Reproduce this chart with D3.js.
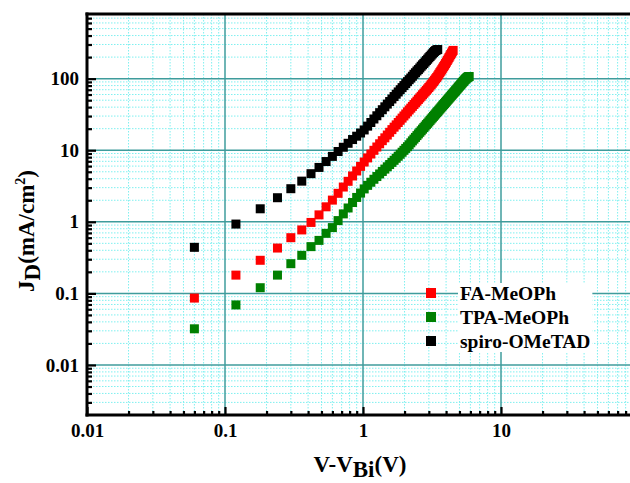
<!DOCTYPE html>
<html>
<head>
<meta charset="utf-8">
<title>J-V log-log</title>
<script src="https://cdn.jsdelivr.net/npm/d3@7"></script>
<style>
  body { margin: 0; background: #fff; }
  svg { display: block; font-family: "Liberation Serif", "Times New Roman", serif; font-weight: bold; }
</style>
</head>
<body>
<div id="chart"></div>
<script>
// V - Vbi sweep (V), shared by all three devices
var voltage = [
  0.06, 0.12, 0.18, 0.24, 0.30, 0.36, 0.42, 0.48, 0.54, 0.60,
  0.66, 0.72, 0.78, 0.84, 0.90, 0.96, 1.02, 1.08, 1.14, 1.20,
  1.26, 1.32, 1.38, 1.44, 1.50, 1.56, 1.62, 1.68, 1.74, 1.80,
  1.86, 1.92, 1.98, 2.04, 2.10, 2.16, 2.22, 2.28, 2.34, 2.40,
  2.46, 2.52, 2.58, 2.64, 2.70, 2.76, 2.82, 2.88, 2.94, 3.00,
  3.06, 3.12, 3.18, 3.24, 3.30, 3.36, 3.42, 3.48, 3.54, 3.60,
  3.66, 3.72, 3.78, 3.84, 3.90, 3.96, 4.02, 4.08, 4.14, 4.20,
  4.26, 4.32, 4.38, 4.44, 4.50, 4.56, 4.62, 4.68, 4.74, 4.80,
  4.86, 4.92, 4.98, 5.04, 5.10, 5.16, 5.22, 5.28, 5.34, 5.40,
  5.46, 5.52, 5.58, 5.64, 5.70, 5.76, 5.82, 5.88
];

// J_D (mA/cm2)
var jFA = [
  0.086, 0.18, 0.29, 0.43, 0.60, 0.77, 0.98, 1.25, 1.62, 2.01,
  2.50, 3.06, 3.68, 4.37, 5.13, 5.95, 6.84, 7.81, 8.85, 9.97,
  11.1, 12.3, 13.6, 14.9, 16.3, 17.8, 19.4, 21.0, 22.6, 24.4,
  26.2, 28.1, 30.1, 32.1, 34.3, 36.5, 38.7, 41.0, 43.5, 45.9,
  48.5, 51.2, 53.9, 56.7, 59.6, 62.5, 65.5, 68.6, 71.8, 75.2,
  78.8, 82.5, 86.4, 90.5, 95, 99.5, 104, 109, 115, 121,
  127, 133, 140, 147, 154, 162, 170, 179, 188, 197,
  207, 217, 227, 238, 248
];
var jTPA = [
  0.032, 0.069, 0.12, 0.18, 0.26, 0.34, 0.45, 0.55, 0.69, 0.83,
  1.04, 1.29, 1.56, 1.86, 2.19, 2.52, 2.88, 3.23, 3.57, 3.93,
  4.29, 4.66, 5.05, 5.45, 5.87, 6.31, 6.76, 7.23, 7.72, 8.24,
  8.79, 9.37, 9.97, 10.6, 11.2, 11.9, 12.7, 13.5, 14.3, 15.1,
  16.0, 16.9, 17.8, 18.7, 19.7, 20.7, 21.7, 22.8, 23.8, 24.9,
  26.1, 27.3, 28.4, 29.7, 30.9, 32.2, 33.5, 34.8, 36.2, 37.6,
  39.0, 40.5, 42.0, 43.5, 45.0, 46.6, 48.2, 49.9, 51.5, 53.2,
  54.9, 56.7, 58.5, 60.3, 62.1, 64.0, 65.9, 67.9, 69.9, 71.8,
  73.9, 76.0, 78.0, 80.2, 82.4, 84.5, 86.8, 89.0, 91.3, 93.6,
  96.0, 98.2, 100, 102, 104, 105.5, 106.5, 107
];
var jSpiro = [
  0.44, 0.93, 1.52, 2.17, 2.9, 3.7, 4.7, 5.75, 6.95, 8.2,
  9.6, 11.0, 12.5, 14.1, 15.7, 17.4, 19.2, 21.7, 24.4, 27.3,
  30.3, 33.5, 36.8, 40.4, 44.1, 47.9, 52.0, 56.2, 60.6, 65.2,
  70.0, 74.9, 80.0, 85.3, 90.8, 96.6, 102, 108, 115, 121,
  128, 134, 141, 149, 156, 163, 171, 179, 187, 196,
  204, 213, 222, 231, 240, 247, 252, 255
];

var seriesNames = ["FA-MeOPh", "TPA-MeOPh", "spiro-OMeTAD"];
var seriesColors = ["#ff0000", "#008000", "#000000"];
var seriesValues = [jFA, jTPA, jSpiro];

var xTickValues = [0.01, 0.1, 1, 10];
var xTickLabels = ["0.01", "0.1", "1", "10"];
var yTickValues = [0.01, 0.1, 1, 10, 100];
var yTickLabels = ["0.01", "0.1", "1", "10", "100"];

var width = 630, height = 483;
var pLeft = 87, pRight = 639, pTop = 14, pBottom = 415;

var x = d3.scaleLog().domain([0.01, 100]).range([pLeft, pRight]);
var y = d3.scaleLog().domain([0.002, 800]).range([pBottom, pTop]);

// minor positions 2..9 x 10^k inside a domain
function minorTicks(dom) {
  var out = [];
  for (var k = -4; k <= 3; k++) {
    for (var m = 2; m <= 9; m++) {
      var v = m * Math.pow(10, k);
      if (v > dom[0] * 1.0001 && v < dom[1] * 0.9999) out.push(v);
    }
  }
  return out;
}
var xMinor = minorTicks(x.domain());
var yMinor = minorTicks(y.domain());

var svg = d3.select("#chart").append("svg")
  .attr("width", width)
  .attr("height", height);

svg.append("rect").attr("width", width).attr("height", height).attr("fill", "#fff");

// grid
var grid = svg.append("g");
grid.selectAll(".xm").data(xMinor).enter().append("line")
  .attr("x1", function(d){ return x(d); }).attr("x2", function(d){ return x(d); })
  .attr("y1", pTop).attr("y2", pBottom)
  .attr("stroke", "#7ff0f0").attr("stroke-width", 1).attr("stroke-dasharray", "1.5,1.5");
grid.selectAll(".ym").data(yMinor).enter().append("line")
  .attr("x1", pLeft).attr("x2", pRight)
  .attr("y1", function(d){ return y(d); }).attr("y2", function(d){ return y(d); })
  .attr("stroke", "#7ff0f0").attr("stroke-width", 1).attr("stroke-dasharray", "1.5,1.5");
grid.selectAll(".xM").data(xTickValues.slice(1)).enter().append("line")
  .attr("x1", function(d){ return x(d); }).attr("x2", function(d){ return x(d); })
  .attr("y1", pTop).attr("y2", pBottom)
  .attr("stroke", "#3f9c9c").attr("stroke-width", 1.5);
grid.selectAll(".yM").data(yTickValues).enter().append("line")
  .attr("x1", pLeft).attr("x2", pRight)
  .attr("y1", function(d){ return y(d); }).attr("y2", function(d){ return y(d); })
  .attr("stroke", "#3f9c9c").attr("stroke-width", 1.5);

// data
var sq = 9;
seriesValues.forEach(function(vals, s) {
  svg.append("g").selectAll("rect").data(vals).enter().append("rect")
    .attr("x", function(d, i){ return x(voltage[i]) - sq / 2; })
    .attr("y", function(d){ return y(d) - sq / 2; })
    .attr("width", sq).attr("height", sq)
    .attr("fill", seriesColors[s]);
});

// axes (ticks point inward)
function styleAxis(g) {
  g.select(".domain").remove();
  g.selectAll(".tick line").attr("stroke", "#000").attr("stroke-width", 2.2);
  g.selectAll("text").attr("font-size", 19).attr("font-weight", "bold")
    .attr("font-family", "'Liberation Serif', 'Times New Roman', serif").attr("fill", "#000");
}
svg.append("g").attr("transform", "translate(" + pLeft + ",0)")
  .call(d3.axisLeft(y).tickValues(yMinor).tickSize(-5).tickFormat(""))
  .call(styleAxis);
svg.append("g").attr("transform", "translate(" + pLeft + ",0)")
  .call(d3.axisLeft(y).tickValues(yTickValues).tickSize(-9).tickPadding(8)
    .tickFormat(function(d, i){ return yTickLabels[i]; }))
  .call(styleAxis);
svg.append("g").attr("transform", "translate(0," + pBottom + ")")
  .call(d3.axisBottom(x).tickValues(xMinor).tickSize(-4).tickFormat(""))
  .call(styleAxis);
svg.append("g").attr("transform", "translate(0," + pBottom + ")")
  .call(d3.axisBottom(x).tickValues(xTickValues).tickSize(-8).tickPadding(9)
    .tickFormat(function(d, i){ return xTickLabels[i]; }))
  .call(styleAxis);

// frame
svg.append("line").attr("x1", pLeft).attr("x2", pLeft).attr("y1", pTop - 1.5).attr("y2", pBottom + 1.5)
  .attr("stroke", "#000").attr("stroke-width", 3);
svg.append("line").attr("x1", pLeft - 1.5).attr("x2", pRight).attr("y1", pBottom).attr("y2", pBottom)
  .attr("stroke", "#000").attr("stroke-width", 3);
svg.append("line").attr("x1", pLeft - 1.5).attr("x2", pRight).attr("y1", pTop).attr("y2", pTop)
  .attr("stroke", "#000").attr("stroke-width", 3);

// axis titles
var xt = svg.append("text").attr("x", 360).attr("y", 472)
  .attr("text-anchor", "middle").attr("font-size", 23);
xt.append("tspan").text("V-V");
xt.append("tspan").attr("dy", 5).text("Bi");
xt.append("tspan").attr("dy", -5).text("(V)");

var yt = svg.append("text").attr("transform", "translate(34,231) rotate(-90)")
  .attr("text-anchor", "middle").attr("font-size", 23);
yt.append("tspan").text("J");
yt.append("tspan").attr("dy", 6).text("D");
yt.append("tspan").attr("dy", -6).text("(mA/cm");
yt.append("tspan").attr("dy", -9).attr("font-size", 14).text("2");
yt.append("tspan").attr("dy", 9).text(")");

// legend
var legend = svg.append("g");
var legBox = legend.append("rect").attr("fill", "#fff");
var legText = legend.append("g");
seriesNames.forEach(function(name, i) {
  var cy = 293 + i * 24;
  legend.append("rect").attr("x", 426).attr("y", cy - 5).attr("width", 10).attr("height", 10)
    .attr("fill", seriesColors[i]);
  legText.append("text").attr("x", 460).attr("y", cy + 7).attr("font-size", 19.5).text(name);
});
var bb = legText.node().getBBox();
legBox.attr("x", bb.x - 2).attr("y", bb.y).attr("width", bb.width + 4).attr("height", bb.height);
</script>
</body>
</html>
